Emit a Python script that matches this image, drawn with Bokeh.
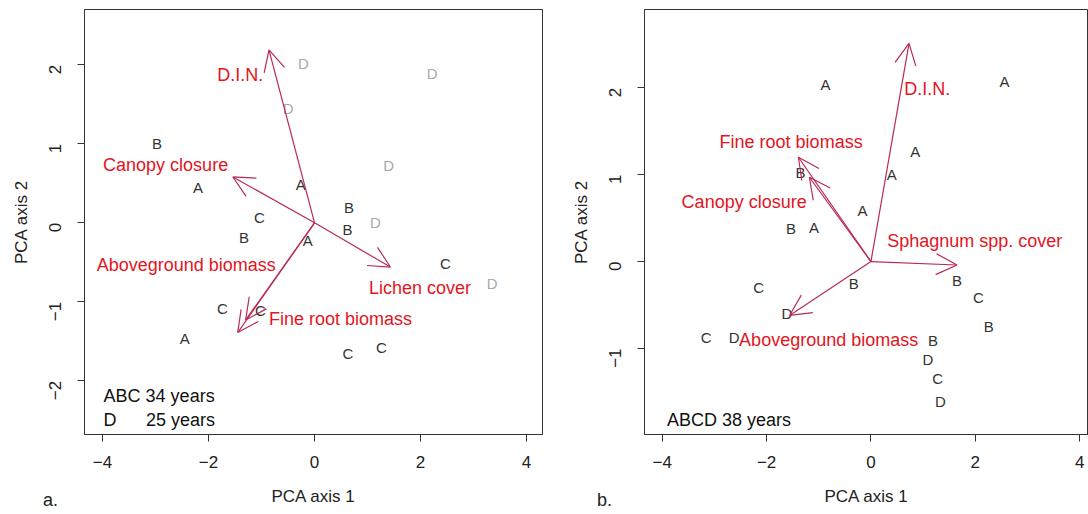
import math
from bokeh.plotting import figure
from bokeh.models import (ColumnDataSource, Arrow, OpenHead, FixedTicker, Div)
from bokeh.layouts import row, column
from bokeh.core.properties import value
from bokeh.embed import file_html
from bokeh.resources import INLINE

# ---------------- Panel a data ----------------
a_site_x = [-0.21, 2.22, -0.50, -2.97, 1.40, -2.20, -0.26, 0.65, -1.04, 1.15, 0.62, -1.33, -0.13,
            2.47, 3.35, -1.74, -1.02, -2.45, 0.63, 1.26]
a_site_y = [2.02, 1.89, 1.45, 1.00, 0.73, 0.45, 0.48, 0.19, 0.07, 0.00, -0.09, -0.19, -0.23,
            -0.52, -0.77, -1.09, -1.11, -1.47, -1.65, -1.58]
a_site_lab = ["D", "D", "D", "B", "D", "A", "A", "B", "C", "D", "B", "B", "A",
              "C", "D", "C", "C", "A", "C", "C"]

a_var_names = ["D.I.N.", "Canopy closure", "Lichen cover", "Aboveground biomass", "Fine root biomass"]
a_arrow_x = [-0.86, -1.54, 1.43, -1.45, -1.30]
a_arrow_y = [2.19, 0.58, -0.56, -1.39, -1.23]
a_label_x = [-1.40, -2.81, 1.99, -2.42, 0.49]
a_label_y = [1.87, 0.73, -0.82, -0.54, -1.22]

# ---------------- Panel b data ----------------
b_site_x = [-0.87, 2.56, 0.85, -1.35, 0.40, -0.16, -1.53, -1.09,
            -0.33, 1.65, -2.15, 2.06, -1.61, 2.26, -3.16, -2.62, 1.19, 1.09, 1.28, 1.33]
b_site_y = [2.04, 2.07, 1.27, 1.02, 1.00, 0.59, 0.38, 0.39,
            -0.25, -0.22, -0.30, -0.41, -0.60, -0.75, -0.87, -0.87, -0.91, -1.13, -1.34, -1.61]
b_site_lab = ["A", "A", "A", "B", "A", "A", "B", "A",
              "B", "B", "C", "C", "D", "B", "C", "D", "B", "D", "C", "D"]

b_var_names = ["D.I.N.", "Fine root biomass", "Canopy closure", "Sphagnum spp. cover", "Aboveground biomass"]
b_arrow_x = [0.73, -1.39, -1.18, 1.65, -1.56]
b_arrow_y = [2.51, 1.20, 0.97, -0.04, -0.62]
b_label_x = [1.08, -1.53, -2.43, 1.99, -0.81]
b_label_y = [1.98, 1.38, 0.69, 0.24, -0.90]

x_ticks = [-4, -2, 0, 2, 4]
a_y_ticks = [-2, -1, 0, 1, 2]
b_y_ticks = [-1, 0, 1, 2]

panel_tags = ["a.", "b."]

FONT = "Liberation Sans"
ARROW_COL = "#b82a55"
LABEL_COL = "#e3141e"


def base_fig(width, xr, yr, yticks, bl, br):
    p = figure(width=width, height=510, x_range=xr, y_range=yr,
               output_backend="svg", toolbar_location=None,
               min_border_left=bl, min_border_right=br, min_border_top=9, min_border_bottom=76)
    p.xgrid.visible = False
    p.ygrid.visible = False
    p.outline_line_color = "#333333"
    p.outline_line_width = 1
    p.background_fill_color = "white"
    p.border_fill_color = "white"
    for ax in (p.xaxis[0], p.yaxis[0]):
        ax.major_tick_out = 7
        ax.major_tick_in = 0
        ax.minor_tick_out = 0
        ax.minor_tick_in = 0
        ax.axis_line_color = "#333333"
        ax.major_tick_line_color = "#333333"
        ax.major_label_text_font = FONT
        ax.major_label_text_font_size = "17px"
        ax.major_label_text_color = "#222222"
        ax.axis_label_text_font = FONT
        ax.axis_label_text_font_size = "17px"
        ax.axis_label_text_font_style = "normal"
        ax.axis_label_text_color = "#222222"
    p.xaxis[0].ticker = FixedTicker(ticks=x_ticks)
    p.yaxis[0].ticker = FixedTicker(ticks=yticks)
    p.xaxis[0].axis_label = "PCA axis 1"
    p.yaxis[0].axis_label = "PCA axis 2"
    p.xaxis[0].major_label_standoff = 14
    p.xaxis[0].axis_label_standoff = 16
    p.yaxis[0].major_label_orientation = math.pi / 2
    p.yaxis[0].major_label_standoff = 22
    p.yaxis[0].axis_label_standoff = 10
    return p


def add_arrows(p, ax, ay):
    src = ColumnDataSource(dict(x0=[0.0] * len(ax), y0=[0.0] * len(ay), x1=ax, y1=ay))
    p.add_layout(Arrow(x_start="x0", y_start="y0", x_end="x1", y_end="y1", source=src,
                       line_color=ARROW_COL, line_width=1.2,
                       end=OpenHead(size=21, line_color=ARROW_COL, line_width=1.2)))


def add_var_labels(p, lx, ly, names):
    src = ColumnDataSource(dict(x=lx, y=ly, t=names))
    p.text("x", "y", text="t", source=src, text_align="center", text_baseline="middle",
           text_font=value(FONT), text_font_size="18px", text_color=LABEL_COL)


# ---------------- Panel a ----------------
pa = base_fig(568, (-4.34, 4.30), (-2.68, 2.70), a_y_ticks, 84, 26)
add_arrows(pa, a_arrow_x, a_arrow_y)
a_cols = ["#aaaaaa" if l == "D" else "#333333" for l in a_site_lab]
pa.text("x", "y", text="t", source=ColumnDataSource(dict(x=a_site_x, y=a_site_y, t=a_site_lab, c=a_cols)),
        text_align="center", text_baseline="middle", text_font=value(FONT),
        text_font_size="15px", text_color="c")
add_var_labels(pa, a_label_x, a_label_y, a_var_names)
pa.text(x=[-3.98, -3.98, -3.18], y=[-2.19, -2.50, -2.50], text=["ABC 34 years", "D", "25 years"],
        text_align="left", text_baseline="middle", text_font=value(FONT),
        text_font_size="18px", text_color="#111111")

# ---------------- Panel b ----------------
pb = base_fig(520, (-4.34, 4.17), (-1.99, 2.90), b_y_ticks, 69, 0)
add_arrows(pb, b_arrow_x, b_arrow_y)
pb.text("x", "y", text="t", source=ColumnDataSource(dict(x=b_site_x, y=b_site_y, t=b_site_lab)),
        text_align="center", text_baseline="middle", text_font=value(FONT),
        text_font_size="15px", text_color="#333333")
add_var_labels(pb, b_label_x, b_label_y, b_var_names)
pb.text(x=[-3.91], y=[-1.82], text=["ABCD 38 years"], text_align="left", text_baseline="middle",
        text_font=value(FONT), text_font_size="18px", text_color="#111111")

# panel tags "a." / "b." sitting beside the x-axis titles
tag_style = {"position": "relative", "top": "-25px", "font-size": "18px",
             "font-family": "Liberation Sans", "color": "#222222", "overflow": "visible",
             "line-height": "20px"}
div_a = Div(text=panel_tags[0], width=568, height=4, styles=dict(tag_style, left="38px"))
div_b = Div(text=panel_tags[1], width=520, height=4, styles=dict(tag_style, left="14px"))

layout = column(row(pa, pb), row(div_a, div_b))
open("out.html", "w").write(file_html(layout, INLINE))
